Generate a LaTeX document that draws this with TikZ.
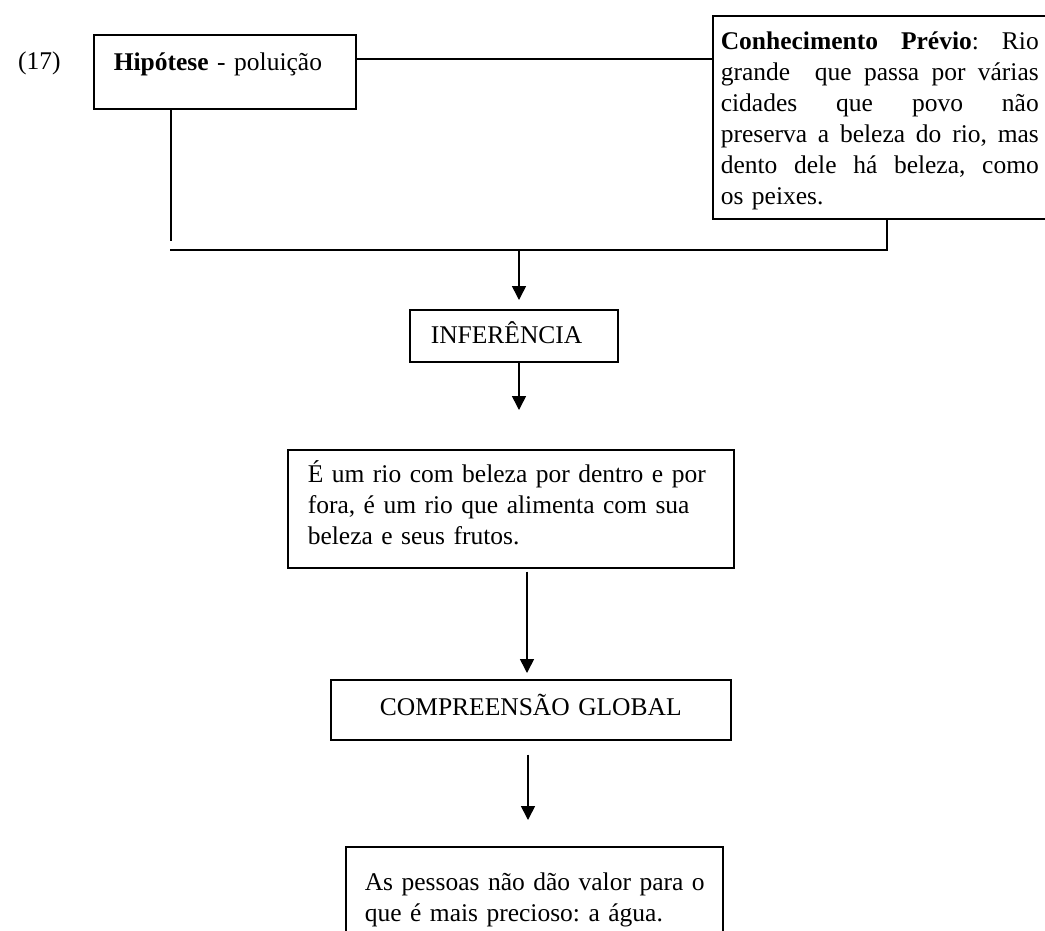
\documentclass[tikz,border=0pt]{standalone}
\usepackage{fontspec}
\setmainfont{Liberation Serif}
\usetikzlibrary{arrows.meta}
\frenchspacing
\newcommand\jsp{\hspace{6.4pt plus 1fil}}
\newcommand\jline[1]{\leavevmode\hbox to 318pt{#1}}
\begin{document}
\begin{tikzpicture}[x=1pt,y=-1pt,
  every node/.style={font=\fontsize{25.5}{31}\selectfont},
  box/.style={draw, line width=1.6pt, rectangle, anchor=north west, align=left},
  ln/.style={line width=1.6pt},
  arr/.style={line width=1.6pt, -{Triangle[width=14pt,length=14pt]}}]
\useasboundingbox (0,0) rectangle (1045,930);
\clip (0,0) rectangle (1045,930);

\node[anchor=base west, inner sep=0pt] (num) at (18,69) {(17)};
\node[box, inner xsep=20pt, inner ysep=10pt, text width=222pt, text height=26pt, text depth=28pt] (hip) at (93,34) {\textbf{Hipótese} - poluição};
\node[box, inner xsep=8pt, inner ysep=7pt, text width=318pt, text height=27pt, text depth=162pt] (con) at (712,15)
 {\jline{\textbf{Conhecimento}\jsp\textbf{Prévio}:\jsp Rio}\\
  \jline{grande\jsp\jsp que\jsp passa\jsp por\jsp várias}\\
  \jline{cidades\jsp que\jsp povo\jsp não}\\
  \jline{preserva\jsp a\jsp beleza\jsp do\jsp rio,\jsp mas}\\
  \jline{dento\jsp dele\jsp há\jsp beleza,\jsp como}\\
  os peixes.};
\node[box, inner xsep=21pt, inner ysep=6pt, text width=166pt, text height=28pt, text depth=12pt] (inf) at (409,309) {INFERÊNCIA};
\node[box, inner xsep=20pt, inner ysep=8pt, text width=406pt, text height=25pt, text depth=77pt] (rio) at (287,449)
 {\mbox{É um rio com beleza por dentro e por}\\ \mbox{fora, é um rio que alimenta com sua}\\ \mbox{beleza e seus frutos.}};
\node[box, align=center, inner xsep=10pt, inner ysep=6pt, text width=380pt, text height=30pt, text depth=18pt] (comp) at (330,679) {COMPREENSÃO GLOBAL};
\node[box, inner xsep=19pt, inner ysep=8pt, text width=339pt, text height=36pt, text depth=80pt] (pes) at (345,846)
 {\mbox{As pessoas não dão valor para o}\\ \mbox{que é mais precioso: a água.}};

\coordinate (tl) at (0,59);
\coordinate (hl) at (171,241);
\coordinate (bl) at (170,250);
\coordinate (br) at (887,250);
\coordinate (ja) at (519,250);
\coordinate (jb) at (527,0);
\coordinate (jc) at (528,0);

\draw[ln] (hip.east |- tl) -- (con.west |- tl);
\draw[ln] (hip.south -| hl) -- (hl);
\draw[ln] (bl) -- (br) -- (con.south -| br);
\draw[arr, shorten >=9pt] (ja) -- (inf.north -| ja);
\draw[arr, shorten >=39pt] (inf.south -| ja) -- (rio.north -| ja);
\draw[arr, shorten <=3pt, shorten >=6pt] (rio.south -| jb) -- (comp.north -| jb);
\draw[arr, shorten <=14pt, shorten >=26pt] (comp.south -| jc) -- (pes.north -| jc);
\end{tikzpicture}
\end{document}
